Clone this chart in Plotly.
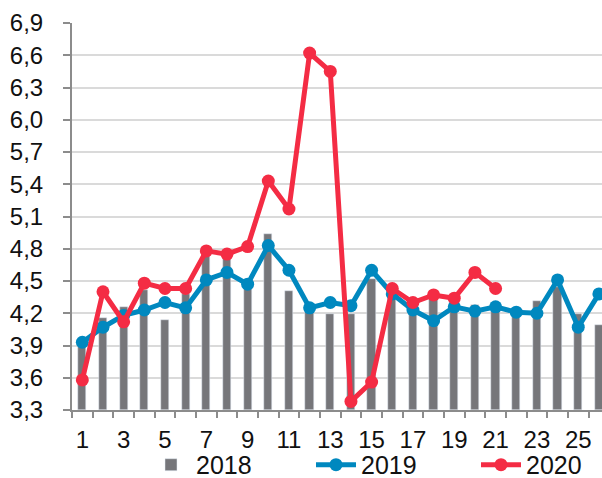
import plotly.graph_objects as go

categories = list(range(1, 27))
values_2018 = [3.92, 4.16, 4.26, 4.42, 4.14, 4.38, 4.74, 4.72, 4.46, 4.94, 4.41, 4.25, 4.19,
               4.19, 4.52, 4.40, 4.23, 4.34, 4.29, 4.28, 4.22, 4.18, 4.31, 4.44, 4.19, 4.09]
values_2019 = [3.93, 4.07, 4.18, 4.23, 4.30, 4.25, 4.51, 4.58, 4.47, 4.83, 4.60, 4.25, 4.30,
               4.27, 4.60, 4.38, 4.23, 4.13, 4.26, 4.22, 4.26, 4.21, 4.20, 4.51, 4.07, 4.38]
values_2020 = [3.58, 4.40, 4.12, 4.48, 4.43, 4.43, 4.78, 4.75, 4.82, 5.43, 5.17, 6.62, 6.45,
               3.38, 3.56, 4.43, 4.30, 4.37, 4.34, 4.58, 4.43]
x_tick_labels = [str(v) for v in range(1, 27, 2)]
y_ticks = [3.3, 3.6, 3.9, 4.2, 4.5, 4.8, 5.1, 5.4, 5.7, 6.0, 6.3, 6.6, 6.9]
y_tick_labels = [f"{v:.1f}".replace(".", ",") for v in y_ticks]
Y_FLOOR = 3.3

GRAY = "#76767A"
BLUE = "#0088BF"
RED = "#F42C44"
FONT = "Liberation Sans, Arial, sans-serif"

fig = go.Figure()
fig.add_trace(go.Bar(x=categories, y=[v - Y_FLOOR for v in values_2018], base=Y_FLOOR,
                     name="2018", marker_color=GRAY, width=0.4))
fig.add_trace(go.Scatter(x=categories, y=values_2019, name="2019", mode="lines+markers",
                         line=dict(color=BLUE, width=5), marker=dict(size=13, color=BLUE)))
fig.add_trace(go.Scatter(x=categories[:len(values_2020)], y=values_2020, name="2020",
                         mode="lines+markers",
                         line=dict(color=RED, width=5), marker=dict(size=13, color=RED)))

fig.update_layout(
    width=602, height=478,
    margin=dict(l=72, r=0, t=23, b=68, autoexpand=False),
    paper_bgcolor="white", plot_bgcolor="white",
    font=dict(family=FONT, size=24, color="#111111"),
    showlegend=True,
    legend=dict(orientation="h", x=146 / 602, xref="container", y=-0.142, yref="paper",
                xanchor="left", yanchor="middle", font=dict(size=25),
                entrywidth=110, itemwidth=40, tracegroupgap=0, bgcolor="rgba(0,0,0,0)"),
    bargap=0,
)
fig.update_xaxes(range=[0.5, 26.15], tickmode="array", tickvals=list(range(1, 27, 2)),
                 ticktext=x_tick_labels, ticks="", showgrid=False, zeroline=False,
                 showline=True, linecolor="#8C8C8C", linewidth=2,
                 ticklabelstandoff=7,
                 minor=dict(tickmode="array", tickvals=[i + 0.5 for i in range(0, 27)],
                            ticks="outside", ticklen=6, tickcolor="#8C8C8C", tickwidth=1.5,
                            showgrid=False))
fig.update_yaxes(range=[3.3, 6.9], tickmode="array", tickvals=y_ticks, ticktext=y_tick_labels,
                 ticks="outside", ticklen=7, tickcolor="#8C8C8C", tickwidth=2,
                 showgrid=True, gridcolor="#DADADA", gridwidth=1.5, zeroline=False,
                 showline=True, linecolor="#8C8C8C", linewidth=2, ticklabelstandoff=15)

fig.write_html("out.html", config={"displayModeBar": False},
               post_script="document.body.style.margin='0';")
